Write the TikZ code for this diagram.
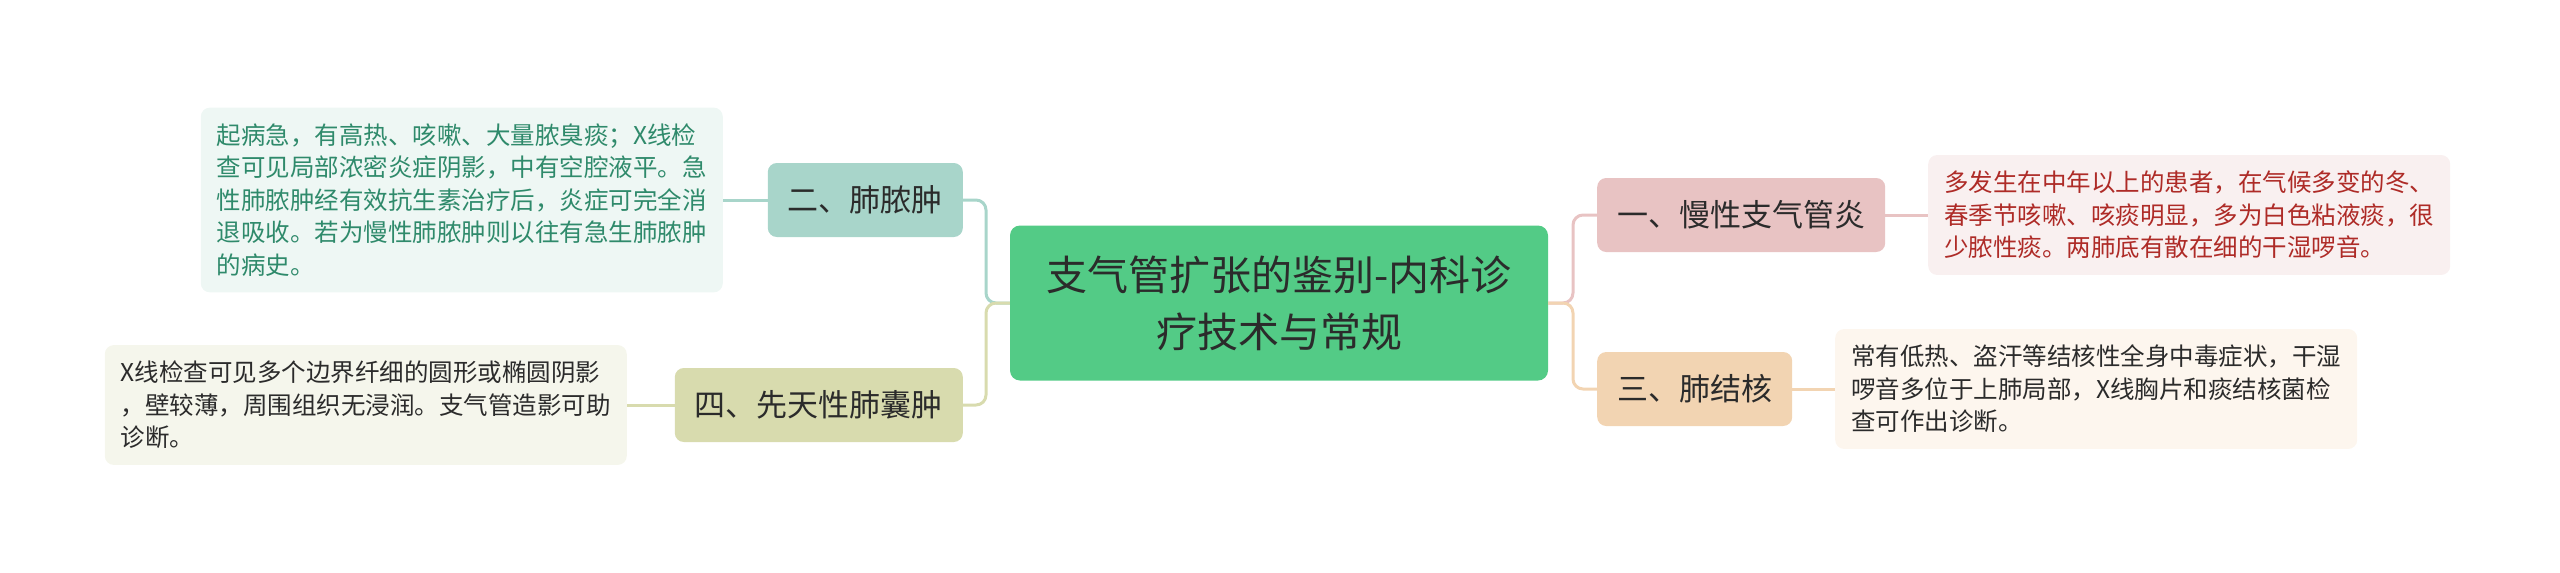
\documentclass[tikz,border=0pt]{standalone}
\usepackage{fontspec}
\setmainfont{Noto Sans CJK SC}
\definecolor{topicgreen}{HTML}{53CB86}
\definecolor{pinkc}{HTML}{E8C3C3}
\definecolor{peachc}{HTML}{F2D4B2}
\definecolor{tealc}{HTML}{A8D5CA}
\definecolor{olivec}{HTML}{D8DBAE}
\definecolor{pinkleaf}{HTML}{F9F0F0}
\definecolor{peachleaf}{HTML}{FDF6EE}
\definecolor{tealleaf}{HTML}{EEF7F4}
\definecolor{oliveleaf}{HTML}{F5F6EC}
\definecolor{redtext}{HTML}{AE2B27}
\definecolor{tealtext}{HTML}{2F8A6B}
\definecolor{darktext}{HTML}{2B2B2B}
\begin{document}
\begin{tikzpicture}[x=1pt, y=-1pt,
  topic/.style={rounded corners=10pt, fill=topicgreen, text=darktext, align=center,
    minimum width=538pt, minimum height=155pt, font=\fontsize{41pt}{57pt}\selectfont},
  branch/.style={rounded corners=9pt, text=darktext, inner xsep=20pt,
    minimum height=74pt, font=\fontsize{31pt}{36pt}\selectfont},
  leaf/.style={rounded corners=9pt, align=left, inner xsep=16pt, inner ysep=16pt,
    font=\fontsize{24.5pt}{32.5pt}\selectfont},
  link/.style={line width=3pt, rounded corners=10pt}]
    \useasboundingbox (0,0) rectangle (2560,573);

    % Central topic
    \node [topic] (c) at (1279,303) {支气管扩张的鉴别-内科诊\\疗技术与常规};
    \coordinate (rtrunk) at (1573,303);
    \coordinate (ltrunk) at (986,303);

    % Right branches
    \node [branch, fill=pinkc, anchor=west] (b1) at (1597,215) {一、慢性支气管炎};
    \node [branch, fill=peachc, anchor=west] (b3) at (1597,389) {三、肺结核};

    % Left branches
    \node [branch, fill=tealc, anchor=east] (b2) at (963,200) {二、肺脓肿};
    \node [branch, fill=olivec, anchor=east] (b4) at (963,405) {四、先天性肺囊肿};

    % Leaves
    \node [leaf, fill=pinkleaf, text=redtext, anchor=west] (l1) at (1928,215)
      {多发生在中年以上的患者，在气候多变的冬、\\春季节咳嗽、咳痰明显，多为白色粘液痰，很\\少脓性痰。两肺底有散在细的干湿啰音。};
    \node [leaf, fill=peachleaf, text=darktext, anchor=west] (l3) at (1835,389)
      {常有低热、盗汗等结核性全身中毒症状，干湿\\啰音多位于上肺局部，X线胸片和痰结核菌检\\查可作出诊断。};
    \node [leaf, fill=tealleaf, text=tealtext, anchor=east] (l2) at (723,200)
      {起病急，有高热、咳嗽、大量脓臭痰；X线检\\查可见局部浓密炎症阴影，中有空腔液平。急\\性肺脓肿经有效抗生素治疗后，炎症可完全消\\退吸收。若为慢性肺脓肿则以往有急生肺脓肿\\的病史。};
    \node [leaf, fill=oliveleaf, text=darktext, anchor=east] (l4) at (627,405)
      {X线检查可见多个边界纤细的圆形或椭圆阴影\\，壁较薄，周围组织无浸润。支气管造影可助\\诊断。};

    % Connections
    \foreach \i/\col in {1/pinkc, 3/peachc} {
      \draw [link, \col] (b\i.west) -| (rtrunk) [sharp corners] -- (c.east);
      \draw [link, \col] (b\i.east) -- (l\i.west);
    }
    \foreach \i/\col in {2/tealc, 4/olivec} {
      \draw [link, \col] (b\i.east) -| (ltrunk) [sharp corners] -- (c.west);
      \draw [link, \col] (b\i.west) -- (l\i.east);
    }
\end{tikzpicture}
\end{document}
